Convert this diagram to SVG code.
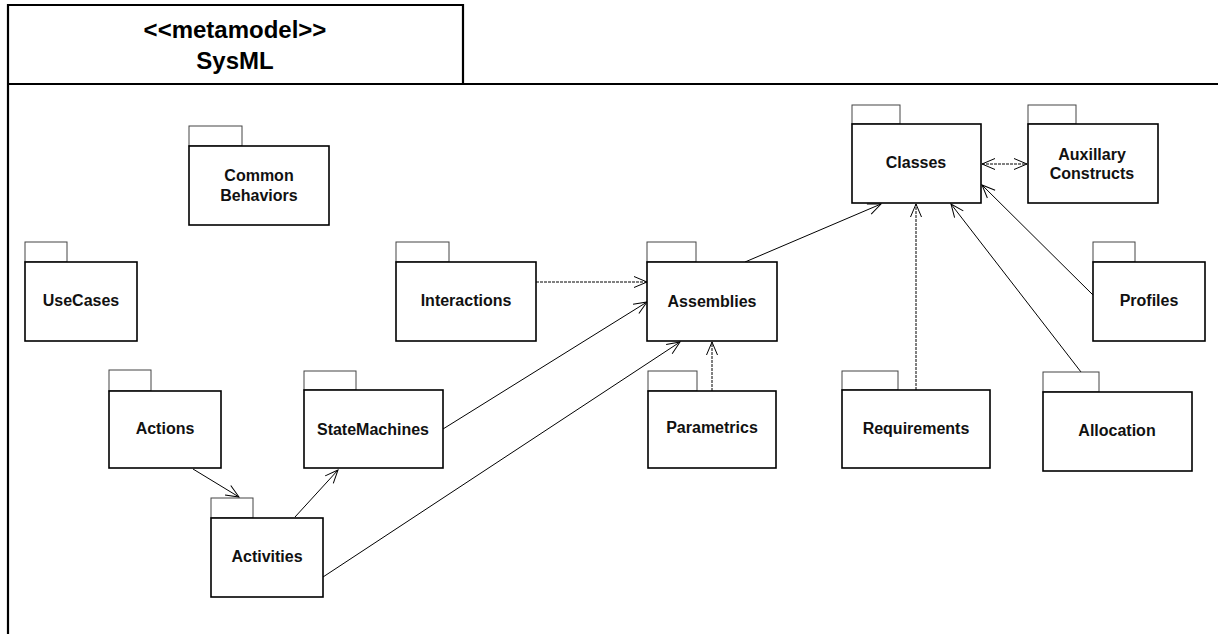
<svg xmlns="http://www.w3.org/2000/svg" width="1218" height="634" viewBox="0 0 1218 634">
  <style>
    .frame { fill: none; stroke: #000; stroke-width: 2.2; }
    .tab { fill: #fff; stroke: #444; stroke-width: 1; }
    .body { fill: #fff; stroke: #000; stroke-width: 1.6; }
    .lbl { font-family: "Liberation Sans", Arial, sans-serif; font-weight: bold; font-size: 16px; text-anchor: middle; fill: #111; }
    .title { font-family: "Liberation Sans", Arial, sans-serif; font-weight: bold; font-size: 24px; text-anchor: middle; fill: #000; }
    .dep { fill: none; stroke: #000; stroke-width: 1; }
    .dash { stroke-dasharray: 3 1; }
  </style>
  <defs>
    <marker id="open" markerUnits="userSpaceOnUse" markerWidth="16" markerHeight="14" refX="14" refY="7" orient="auto-start-reverse">
      <path d="M1,1.5 L14,7 L1,12.5" fill="none" stroke="#000" stroke-width="1"/>
    </marker>
  </defs>
  <rect width="1218" height="634" fill="#fff"/>

  <!-- metamodel frame -->
  <g id="frame">
    <path class="frame" d="M8,634 V5 H463 V84 M8,84 H1218"/>
    <text class="title" x="235" y="38">&lt;&lt;metamodel&gt;&gt;</text>
    <text class="title" x="235" y="69">SysML</text>
  </g>

  <!-- dependencies -->
  <g id="connectors">
    <line class="dep dash" x1="536" y1="282" x2="647" y2="282" marker-end="url(#open)"/>
    <line class="dep" x1="443" y1="429" x2="647" y2="302" marker-end="url(#open)"/>
    <line class="dep" x1="323" y1="577" x2="680" y2="342" marker-end="url(#open)"/>
    <line class="dep dash" x1="712" y1="391" x2="712" y2="342" marker-end="url(#open)"/>
    <line class="dep" x1="745" y1="262" x2="881" y2="204" marker-end="url(#open)"/>
    <line class="dep dash" x1="916" y1="390" x2="916" y2="204" marker-end="url(#open)"/>
    <line class="dep" x1="1081" y1="372" x2="951" y2="204" marker-end="url(#open)"/>
    <line class="dep" x1="1093" y1="295" x2="982" y2="185" marker-end="url(#open)"/>
    <line class="dep dash" x1="982" y1="164" x2="1027" y2="164" marker-start="url(#open)" marker-end="url(#open)"/>
    <line class="dep" x1="193" y1="469" x2="239" y2="497" marker-end="url(#open)"/>
    <line class="dep" x1="295" y1="517" x2="338" y2="470" marker-end="url(#open)"/>
  </g>

  <!-- packages -->
  <g id="common-behaviors">
    <rect class="tab" x="189" y="126" width="53" height="20"/>
    <rect class="body" x="189" y="146" width="140" height="79"/>
    <text class="lbl" x="259" y="181">Common</text>
    <text class="lbl" x="259" y="201">Behaviors</text>
  </g>
  <g id="usecases">
    <rect class="tab" x="25" y="242" width="42" height="20"/>
    <rect class="body" x="25" y="262" width="112" height="79"/>
    <text class="lbl" x="81" y="306">UseCases</text>
  </g>
  <g id="interactions">
    <rect class="tab" x="396" y="242" width="53" height="20"/>
    <rect class="body" x="396" y="262" width="140" height="79"/>
    <text class="lbl" x="466" y="306">Interactions</text>
  </g>
  <g id="assemblies">
    <rect class="tab" x="647" y="242" width="49" height="20"/>
    <rect class="body" x="647" y="262" width="130" height="79"/>
    <text class="lbl" x="712" y="307">Assemblies</text>
  </g>
  <g id="classes">
    <rect class="tab" x="852" y="105" width="48" height="19"/>
    <rect class="body" x="852" y="124" width="129" height="79"/>
    <text class="lbl" x="916" y="168">Classes</text>
  </g>
  <g id="auxillary-constructs">
    <rect class="tab" x="1028" y="105" width="48" height="19"/>
    <rect class="body" x="1028" y="124" width="130" height="79"/>
    <text class="lbl" x="1092" y="160">Auxillary</text>
    <text class="lbl" x="1092" y="179">Constructs</text>
  </g>
  <g id="profiles">
    <rect class="tab" x="1093" y="242" width="42" height="20"/>
    <rect class="body" x="1093" y="262" width="112" height="79"/>
    <text class="lbl" x="1149" y="306">Profiles</text>
  </g>
  <g id="actions">
    <rect class="tab" x="109" y="370" width="42" height="21"/>
    <rect class="body" x="109" y="391" width="112" height="77"/>
    <text class="lbl" x="165" y="434">Actions</text>
  </g>
  <g id="statemachines">
    <rect class="tab" x="304" y="371" width="52" height="19"/>
    <rect class="body" x="304" y="390" width="139" height="78"/>
    <text class="lbl" x="373" y="435">StateMachines</text>
  </g>
  <g id="parametrics">
    <rect class="tab" x="648" y="371" width="49" height="20"/>
    <rect class="body" x="648" y="391" width="128" height="77"/>
    <text class="lbl" x="712" y="433">Parametrics</text>
  </g>
  <g id="requirements">
    <rect class="tab" x="842" y="371" width="56" height="19"/>
    <rect class="body" x="842" y="390" width="148" height="78"/>
    <text class="lbl" x="916" y="434">Requirements</text>
  </g>
  <g id="allocation">
    <rect class="tab" x="1043" y="372" width="56" height="20"/>
    <rect class="body" x="1043" y="392" width="149" height="79"/>
    <text class="lbl" x="1117" y="436">Allocation</text>
  </g>
  <g id="activities">
    <rect class="tab" x="211" y="498" width="42" height="20"/>
    <rect class="body" x="211" y="518" width="112" height="79"/>
    <text class="lbl" x="267" y="562">Activities</text>
  </g>
</svg>
